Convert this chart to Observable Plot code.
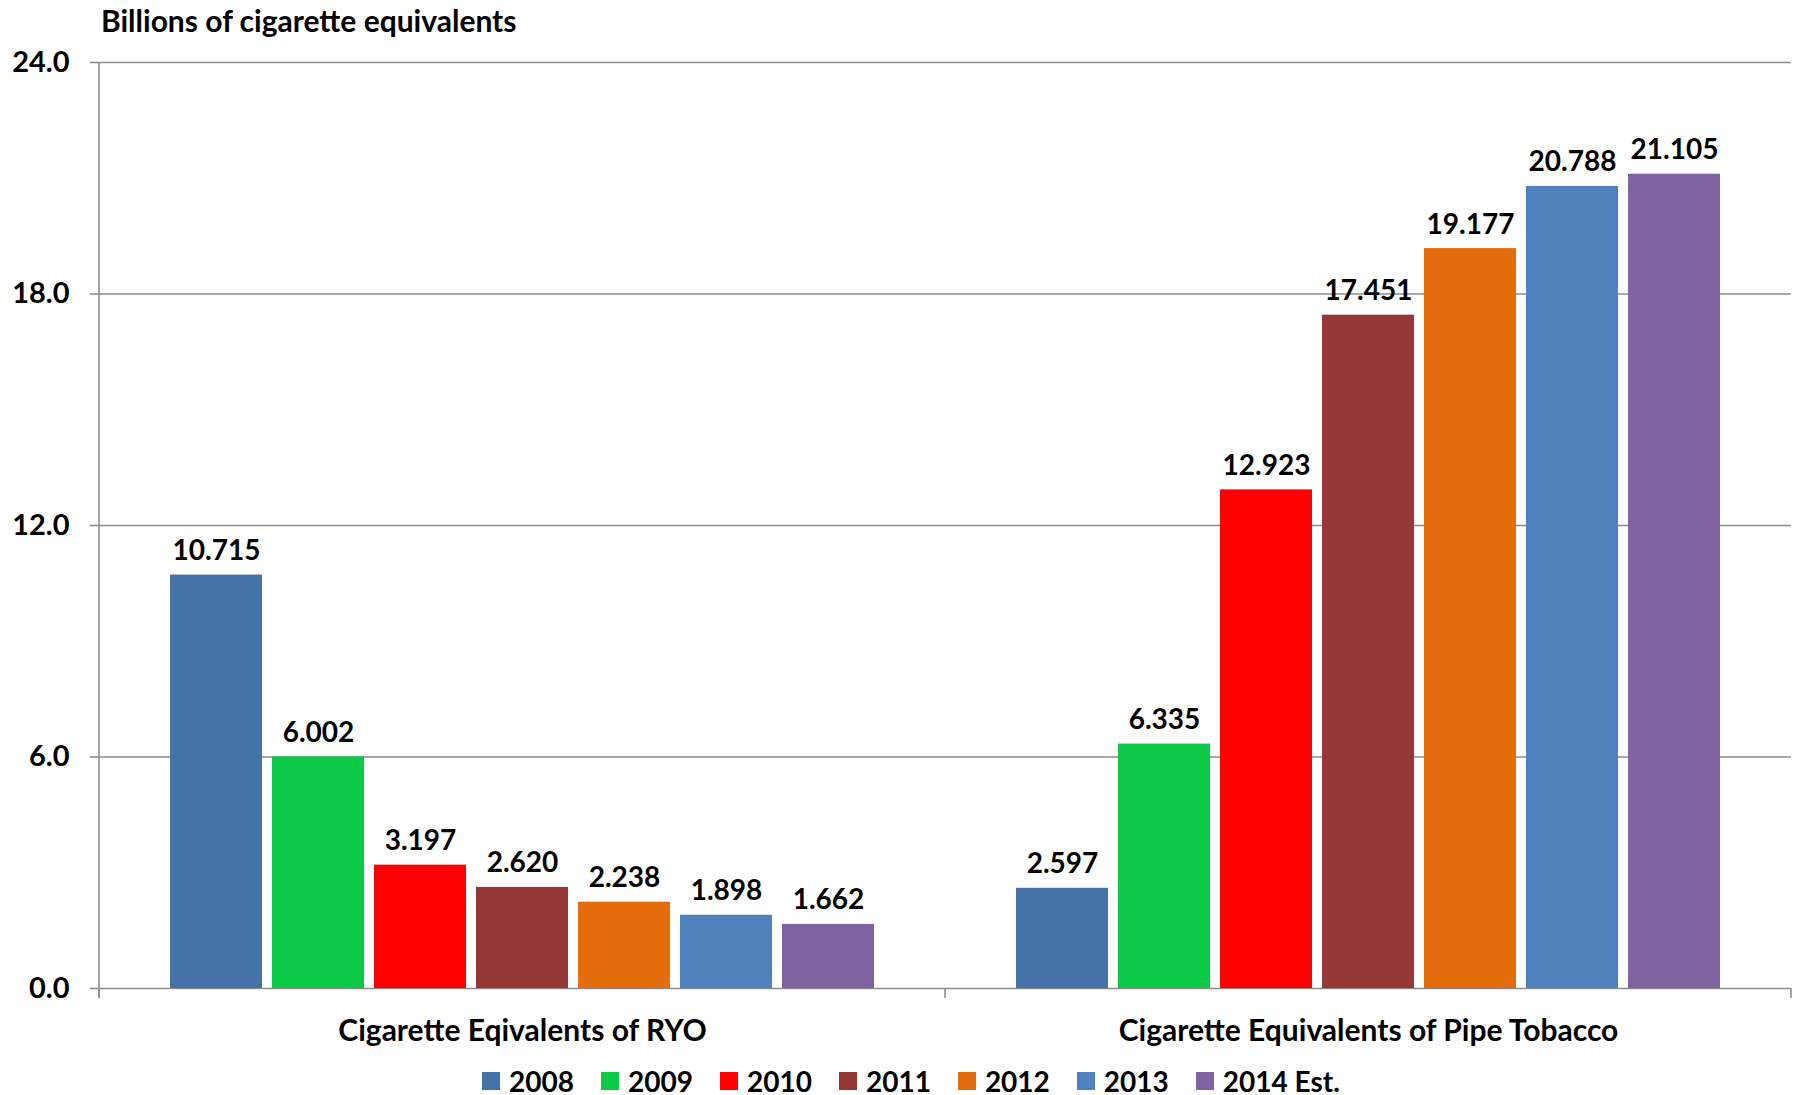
<!DOCTYPE html>
<html>
<head>
<meta charset="utf-8">
<script src="https://cdn.jsdelivr.net/npm/d3@7"></script>
<script src="https://cdn.jsdelivr.net/npm/@observablehq/plot@0.6"></script>
<style>
  html, body { margin: 0; padding: 0; background: #fff; }
  body { width: 1799px; height: 1095px; position: relative; overflow: hidden; font-family: Lato, "Open Sans", sans-serif; font-weight: bold; color: #000; }
  #title { position: absolute; left: 101px; top: 0; height: 40px; line-height: 40px; font-size: 30px; white-space: nowrap; }
  #chart { position: absolute; left: 0; top: 40px; }
  #legend { position: absolute; left: 482px; top: 1063px; height: 36px; display: flex; align-items: center; font-size: 28px; line-height: 26px; white-space: nowrap; }
  .item { display: flex; align-items: center; margin-right: 27px; }
  .sw { width: 18px; height: 18px; margin-right: 9px; }
</style>
</head>
<body>
<div id="title">Billions of cigarette equivalents</div>
<div id="chart"></div>
<div id="legend"></div>
<script>
const categories = ["Cigarette Eqivalents of RYO", "Cigarette Equivalents of Pipe Tobacco"];
const years = ["2008", "2009", "2010", "2011", "2012", "2013", "2014 Est."];
const ryoValues = [10.715, 6.002, 3.197, 2.620, 2.238, 1.898, 1.662];
const pipeValues = [2.597, 6.335, 12.923, 17.451, 19.177, 20.788, 21.105];
const colors = ["#4673A7", "#0BC946", "#FF0000", "#953735", "#E46C0A", "#4F81BD", "#8064A2"];
const yTicks = [0, 6, 12, 18, 24];

const data = [];
[ryoValues, pipeValues].forEach((vals, ci) => {
  vals.forEach((v, yi) => data.push({category: categories[ci], year: years[yi], value: v}));
});

const gridColor = "#8c8c8c";
const chart = Plot.plot({
  width: 1799,
  height: 1022,
  marginTop: 22,
  marginBottom: 74,
  marginLeft: 98,
  marginRight: 8,
  style: {fontFamily: "Lato, 'Open Sans', sans-serif", fontSize: "30px", fontWeight: "bold", color: "#000", background: "#fff"},
  fx: {domain: categories, padding: 0, label: null, tickSize: 0, tickPadding: 31},
  x: {domain: years, paddingInner: 0.1, paddingOuter: 0.684, axis: null},
  y: {domain: [0, 24], axis: null},
  color: {domain: years, range: colors},
  marks: [
    Plot.gridY(yTicks, {stroke: gridColor, strokeOpacity: 1, strokeWidth: 1.6}),
    Plot.axisY(yTicks, {tickSize: 9, tickPadding: 21, tickFormat: d3.format(".1f"), stroke: gridColor, strokeWidth: 1.6, label: null, fill: "#000", fontSize: 29}),
    Plot.barY(data, {fx: "category", x: "year", y: "value", fill: "year"}),
    Plot.text(data, {fx: "category", x: "year", y: "value", text: d => d3.format(".3f")(d.value), lineAnchor: "bottom", dy: -15, fill: "#000", fontSize: 28})
  ]
});
document.getElementById("chart").appendChild(chart);

// axis line and category boundary ticks, positioned from Plot's own scales
const fxs = chart.scale("fx"), ys = chart.scale("y");
const svg = d3.select(chart);
const left = fxs.apply(categories[0]);
const bw = fxs.bandwidth;
const y0 = ys.apply(0), yTop = ys.apply(24);
const g = svg.append("g").attr("stroke", gridColor).attr("stroke-width", 1.6);
g.append("line").attr("x1", left).attr("x2", left).attr("y1", yTop).attr("y2", y0 + 10);
for (let i = 0; i <= categories.length; i++) {
  const bx = left + i * bw;
  g.append("line").attr("x1", bx).attr("x2", bx).attr("y1", y0).attr("y2", y0 + 10);
}

// legend
const legend = d3.select("#legend");
years.forEach((yr, i) => {
  const it = legend.append("div").attr("class", "item");
  it.append("div").attr("class", "sw").style("background", colors[i]);
  it.append("span").text(yr);
});
</script>
</body>
</html>
